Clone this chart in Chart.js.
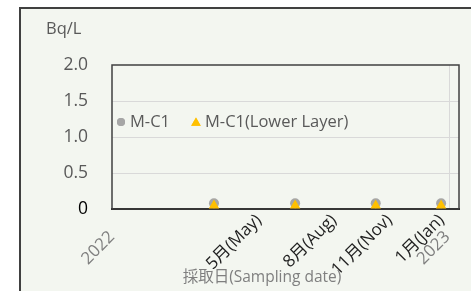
<!DOCTYPE html>
<html>
<head>
<meta charset="utf-8">
<script src="https://cdn.jsdelivr.net/npm/chart.js@4"></script>
<style>
  html, body { margin: 0; padding: 0; background: #ffffff; width: 471px; height: 291px; overflow: hidden; }
  #frame { position: absolute; left: 19px; top: 7px; width: 470px; height: 300px;
           border-left: 2px solid #404040; border-top: 2px solid #404040; background: #f3f6f0; }
  #c { position: absolute; left: 0; top: 0; }
</style>
</head>
<body>
<div id="frame"></div>
<canvas id="c" width="471" height="291"></canvas>
<script>
// ---- data (x in months from Jan 2022) ----
const seriesNames = ["M-C1", "M-C1(Lower Layer)"];
const samplePos = [3.82, 6.86, 9.88, 12.33];
const mc1 = [0.08, 0.08, 0.08, 0.08];
const mc1Lower = [0.05, 0.05, 0.05, 0.05];
const monthLabels = ["5月(May)", "8月(Aug)", "11月(Nov)", "1月(Jan)"];
const monthTickPos = [5.5, 8.31, 10.4, 12.35];
const yearLabels = ["2022", "2023"];
const yearTickPos = [-0.63, 11.94];
const xGridPos = [12.63];
const yTicks = [0, 0.5, 1.0, 1.5, 2.0];
const yUnit = "Bq/L";
const xTitle = "採取日(Sampling date)";

const FONT = "'Open Sans','Noto Sans CJK JP',sans-serif";

const xTickList = [];
yearLabels.forEach((l, i) => xTickList.push({value: yearTickPos[i], label: ["", l], kind: "year"}));
monthLabels.forEach((l, i) => xTickList.push({value: monthTickPos[i], label: l, kind: "month"}));
xGridPos.forEach(v => xTickList.push({value: v, label: "", kind: "grid"}));

const decor = {
  id: 'decor',
  beforeDatasetsDraw(chart) {
    const ctx = chart.ctx, a = chart.chartArea;
    ctx.save();
    ctx.strokeStyle = '#404040';
    ctx.lineWidth = 1.5;
    ctx.strokeRect(a.left, a.top, a.right - a.left, a.bottom - a.top);
    ctx.restore();
  },
  afterDraw(chart) {
    const ctx = chart.ctx, a = chart.chartArea;
    ctx.save();
    // y unit
    ctx.font = "16.5px " + FONT;
    ctx.fillStyle = '#595959';
    ctx.textBaseline = 'middle';
    ctx.textAlign = 'left';
    ctx.fillText(yUnit, 46, 29);
    // x title
    ctx.font = "15.5px " + FONT;
    ctx.fillStyle = '#7f7f7f';
    ctx.textAlign = 'center';
    ctx.fillText(xTitle, 262, 278);
    // legend
    const ly = a.top + 57;
    let x = a.left + 9;
    chart.data.datasets.forEach((ds, i) => {
      ctx.fillStyle = ds.backgroundColor;
      ctx.beginPath();
      Chart.helpers.drawPoint(ctx, {pointStyle: ds.pointStyle, radius: i === 0 ? 4 : 5.5, borderWidth: 0}, x, ly + (i === 0 ? 0 : 1));
      ctx.fill();
      ctx.font = "16.5px " + FONT;
      ctx.fillStyle = '#595959';
      ctx.textAlign = 'left';
      ctx.textBaseline = 'middle';
      ctx.fillText(ds.label, x + 9, ly);
      x += 9 + ctx.measureText(ds.label).width + 26;
    });
    ctx.restore();
  }
};

new Chart(document.getElementById('c'), {
  type: 'scatter',
  data: {
    datasets: [
      { label: seriesNames[0], data: samplePos.map((x, i) => ({x, y: mc1[i]})),
        pointStyle: 'circle', pointRadius: 5, backgroundColor: '#a6a6a6', borderColor: '#a6a6a6', borderWidth: 0, order: 1 },
      { label: seriesNames[1], data: samplePos.map((x, i) => ({x, y: mc1Lower[i]})),
        pointStyle: 'triangle', pointRadius: 6, backgroundColor: '#ffc000', borderColor: '#ffc000', borderWidth: 0, order: 0 }
    ]
  },
  options: {
    responsive: false,
    animation: false,
    devicePixelRatio: 1,
    layout: { padding: { top: 65, right: 12, bottom: 0, left: 0 } },
    plugins: { legend: { display: false }, tooltip: { enabled: false } },
    scales: {
      x: {
        type: 'linear', min: 0, max: 13,
        afterBuildTicks(scale) { scale.ticks = xTickList.map(t => ({value: t.value, label: t.label})); },
        afterFit(scale) { scale.height = 82; },
        ticks: {
          autoSkip: false, minRotation: 45, maxRotation: 45, padding: 0,
          font: { size: 17, family: FONT, lineHeight: 1.4 },
          color: ctx => (xTickList[ctx.index] && xTickList[ctx.index].kind === 'year') ? '#7f7f7f' : '#1f1f1f',
          callback: function(v, i) { return xTickList[i] ? xTickList[i].label : ''; }
        },
        grid: { drawTicks: false, color: ctx => (xTickList[ctx.index] && xTickList[ctx.index].kind === 'grid') ? '#d9d9d9' : 'rgba(0,0,0,0)' },
        border: { display: true, color: '#1a1a1a', width: 2 }
      },
      y: {
        min: 0, max: 2,
        afterBuildTicks(scale) { scale.ticks = yTicks.map(v => ({value: v})); },
        afterFit(scale) { scale.width = 112; },
        ticks: {
          padding: 24,
          font: { size: 17.5, family: FONT },
          color: ctx => ctx.tick.value === 0 ? '#000000' : '#595959',
          callback: v => v === 0 ? '0' : v.toFixed(1)
        },
        grid: { drawTicks: false, color: ctx => (ctx.tick && ctx.tick.value > 0 && ctx.tick.value < 2) ? '#d9d9d9' : 'rgba(0,0,0,0)' },
        border: { display: false }
      }
    }
  },
  plugins: [decor]
});
</script>
</body>
</html>
